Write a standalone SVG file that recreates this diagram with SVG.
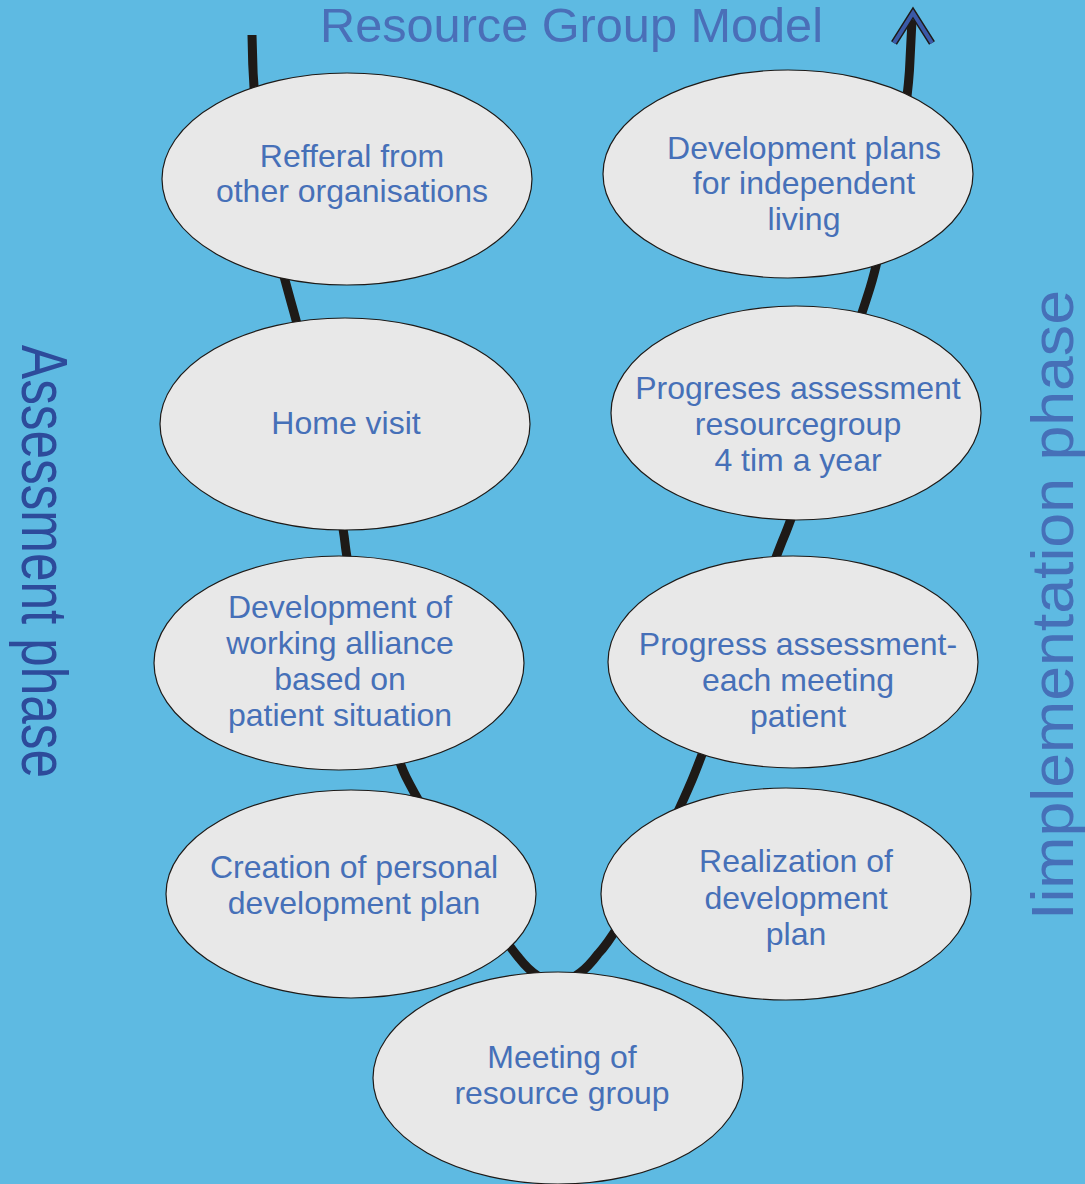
<svg xmlns="http://www.w3.org/2000/svg" width="1085" height="1184" viewBox="0 0 1085 1184">
  <style>
    .bubble { fill: #e8e8e8; stroke: #1e1a17; stroke-width: 1.2; }
    .label { font-family: "Liberation Sans", Arial, sans-serif; font-size: 32px; fill: #4670b8; text-anchor: middle; }
    .path { fill: none; stroke: #1e1a17; stroke-width: 9; stroke-linecap: butt; }
  </style>
  <rect width="1085" height="1184" fill="#5ebae2"/>

  <!-- title and phase labels -->
  <text x="320" y="42" font-family="Liberation Sans, Arial, sans-serif" font-size="48" fill="#4a6fb8" textLength="503" lengthAdjust="spacingAndGlyphs">Resource Group Model</text>
  <text transform="translate(22,345) rotate(90)" font-family="Liberation Sans, Arial, sans-serif" font-size="64" fill="#2d4b9b" textLength="433" lengthAdjust="spacingAndGlyphs">Assessment phase</text>
  <text transform="translate(1073,920) rotate(-90)" font-family="Liberation Sans, Arial, sans-serif" font-size="60" fill="#4670b8" textLength="630" lengthAdjust="spacingAndGlyphs">Iimplementation phase</text>

  <!-- U-shaped process path -->
  <g id="connectors">
    <path class="path" d="M252,35 C253,150 276,250 291,302 C306,354 341,505 345,543 C349,581 390,745 406,777 C422,809 495,930 519,958 C548,995 575,985 598,954 C625,926 678,813 692,780 C706,747 772,565 784,537 C796,509 860,320 870,288 C880,256 908,120 910,60 L912,20"/>
    <polyline points="894,43 913,13 932,43" fill="none" stroke="#1e1a17" stroke-width="7" stroke-linejoin="miter"/>
    <polyline points="894,43 913,13 932,43" fill="none" stroke="#3a5aa8" stroke-width="4" stroke-linejoin="miter"/>
  </g>

  <g id="referral">
    <ellipse class="bubble" cx="347" cy="179" rx="185" ry="106"/>
    <text class="label" x="352" y="167">Refferal from</text>
    <text class="label" x="352" y="202">other organisations</text>
  </g>
  <g id="home-visit">
    <ellipse class="bubble" cx="345" cy="424" rx="185" ry="106"/>
    <text class="label" x="346" y="434">Home visit</text>
  </g>
  <g id="working-alliance">
    <ellipse class="bubble" cx="339" cy="663" rx="185" ry="107"/>
    <text class="label" x="340" y="618">Development of</text>
    <text class="label" x="340" y="654">working alliance</text>
    <text class="label" x="340" y="690">based on</text>
    <text class="label" x="340" y="726">patient situation</text>
  </g>
  <g id="personal-plan">
    <ellipse class="bubble" cx="351" cy="894" rx="185" ry="104"/>
    <text class="label" x="354" y="878">Creation of personal</text>
    <text class="label" x="354" y="914">development plan</text>
  </g>
  <g id="meeting">
    <ellipse class="bubble" cx="558" cy="1078" rx="185" ry="106"/>
    <text class="label" x="562" y="1068">Meeting of</text>
    <text class="label" x="562" y="1104">resource group</text>
  </g>
  <g id="realization">
    <ellipse class="bubble" cx="786" cy="894" rx="185" ry="106"/>
    <text class="label" x="796" y="872">Realization of</text>
    <text class="label" x="796" y="909">development</text>
    <text class="label" x="796" y="945">plan</text>
  </g>
  <g id="progress-meeting">
    <ellipse class="bubble" cx="793" cy="662" rx="185" ry="106"/>
    <text class="label" x="798" y="655">Progress assessment-</text>
    <text class="label" x="798" y="691">each meeting</text>
    <text class="label" x="798" y="727">patient</text>
  </g>
  <g id="progress-group">
    <ellipse class="bubble" cx="796" cy="413" rx="185" ry="107"/>
    <text class="label" x="798" y="399">Progreses assessment</text>
    <text class="label" x="798" y="435">resourcegroup</text>
    <text class="label" x="798" y="471">4 tim a year</text>
  </g>
  <g id="independent-living">
    <ellipse class="bubble" cx="788" cy="174" rx="185" ry="104"/>
    <text class="label" x="804" y="159">Development plans</text>
    <text class="label" x="804" y="194">for independent</text>
    <text class="label" x="804" y="230">living</text>
  </g>
</svg>
